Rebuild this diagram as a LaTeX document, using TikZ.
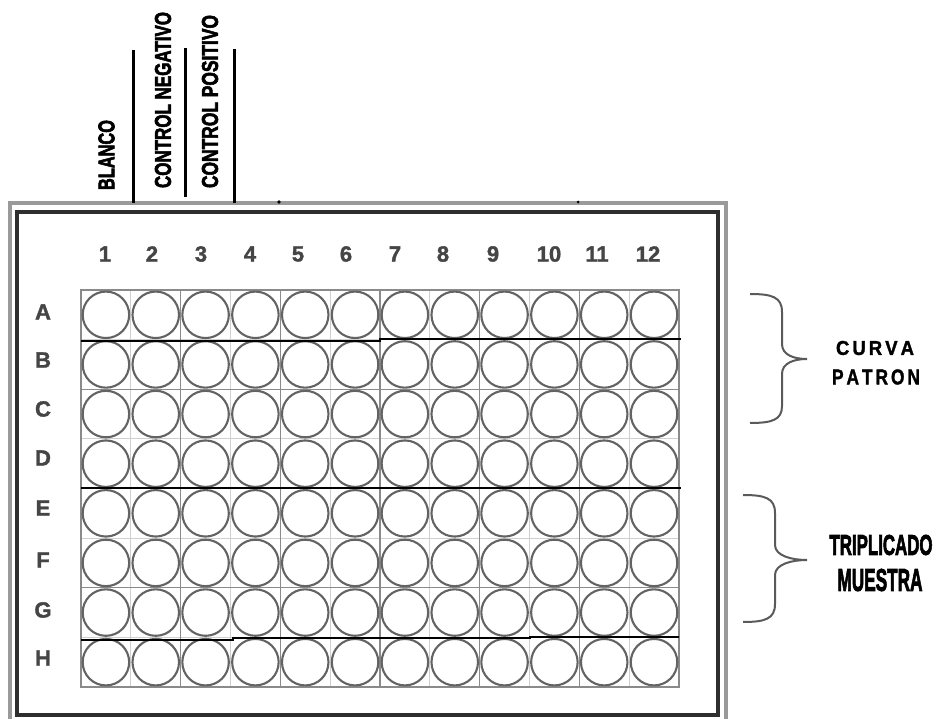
\documentclass[tikz,border=0pt]{standalone}
\usepackage{fontspec}
\setmainfont{Liberation Sans}
\newfontfamily\heavyfont{Liberation Sans Bold}[FakeBold=1.6]
\newfontfamily\heavierfont{Liberation Sans Bold}[FakeBold=3]
\usepackage{graphicx}
\definecolor{wellc}{HTML}{636363}
\definecolor{gridc}{HTML}{8A8A8A}
\definecolor{gridl}{HTML}{CFCFCF}
\definecolor{labc}{HTML}{454545}
\definecolor{framed}{HTML}{2E2E2E}
\definecolor{frameg}{HTML}{9A9A9A}
\definecolor{bracec}{HTML}{5A5A5A}
\begin{document}
\begin{tikzpicture}[x=1pt,y=-1pt,
  well/.style={draw=wellc,line width=2.1pt,fill=white},
  colnum/.style={text=labc,font=\fontsize{22}{22}\selectfont\heavyfont,inner sep=0pt},
  rowlab/.style={text=labc,font=\fontsize{22}{22}\selectfont\heavyfont,inner sep=0pt},
  toplab/.style={rotate=90,inner sep=0pt,font=\heavierfont},
  sidelab/.style={inner sep=0pt,font=\heavyfont},
  marker/.style={draw=black,line width=3pt},
  divider/.style={draw=black,line width=1.6pt},
  bracepath/.style={draw=bracec,line width=2pt}]
\useasboundingbox (0,0) rectangle (938,719);
\fill[white] (0,0) rectangle (938,719);
% plate frame
\draw[frameg,line width=4pt] (10,203) rectangle (726,724);
\draw[framed,line width=3.5pt] (17,212) rectangle (718,715);
% faint grid
\foreach \i in {1,...,11} \draw[gridl,line width=1pt] ({81+49.83*\i},290) -- ({81+49.83*\i},687);
\foreach \j in {1,...,7} \draw[gridl,line width=1pt] (81,{290+49.625*\j}) -- (679,{290+49.625*\j});
\foreach \i in {2,4,...,10} \draw[gridc,line width=1.4pt] ({81+49.83*\i},290) -- ({81+49.83*\i},687);
\foreach \j in {2,4,6} \draw[gridc,line width=1.4pt] (81,{290+49.625*\j}) -- (679,{290+49.625*\j});
\draw[gridc,line width=1.8pt] (81,290) rectangle (679,687);
% wells
\foreach \i in {1,...,12}
  \foreach \j in {1,...,8}
    \node[well,circle,minimum size=46.5pt,inner sep=0pt] (w\i-\j) at ({81+49.83*(\i-0.5)},{290+49.625*(\j-0.5)}) {};
% column numbers
\node[colnum] (c1) at (105,254) {1};
\node[colnum] (c2) at (152,254) {2};
\node[colnum] (c3) at (201,254) {3};
\node[colnum] (c4) at (250,254) {4};
\node[colnum] (c5) at (298,254) {5};
\node[colnum] (c6) at (346,254) {6};
\node[colnum] (c7) at (395,254) {7};
\node[colnum] (c8) at (443,254) {8};
\node[colnum] (c9) at (493,254) {9};
\node[colnum] (c10) at (549,254) {10};
\node[colnum] (c11) at (597,254) {11};
\node[colnum] (c12) at (648,254) {12};
% row letters
\node[rowlab] (rA) at (43,312) {A};
\node[rowlab] (rB) at (43,360) {B};
\node[rowlab] (rC) at (43,409) {C};
\node[rowlab] (rD) at (43,458) {D};
\node[rowlab] (rE) at (43,508) {E};
\node[rowlab] (rF) at (43,560) {F};
\node[rowlab] (rG) at (43,610) {G};
\node[rowlab] (rH) at (43,658) {H};
% divider lines
\coordinate (d1a) at (81,341); \coordinate (d1b) at (380,341); \coordinate (d1c) at (380,339); \coordinate (d1d) at (681,339);
\draw[divider] (d1a) -- (d1b) -- (d1c) -- (d1d);
\coordinate (d2a) at (81,488); \coordinate (d2b) at (681,488);
\draw[divider] (d2a) -- (d2b);
\coordinate (d3a) at (81,640); \coordinate (d3b) at (233,640); \coordinate (d3c) at (233,638); \coordinate (d3d) at (530,638); \coordinate (d3e) at (530,637); \coordinate (d3f) at (679,637);
\draw[divider] (d3a) -- (d3b) -- (d3c) -- (d3d) -- (d3e) -- (d3f);
% top markers
\coordinate (m1t) at (133,50); \coordinate (m1b) at (133,203);
\coordinate (m2t) at (185,48); \coordinate (m2b) at (185,197);
\coordinate (m3t) at (234,49); \coordinate (m3b) at (234,203);
\draw[marker] (m1t) -- (m1b);
\draw[marker] (m2t) -- (m2b);
\draw[marker] (m3t) -- (m3b);
\fill[black] (279,202) circle (1.8pt);
\fill[black] (578,202) circle (1.5pt);
% top labels
\node[toplab] (blanco) at (106.5,155) {\resizebox{70pt}{16pt}{BLANCO}};
\node[toplab] (cneg) at (163,100) {\resizebox{176pt}{16pt}{CONTROL NEGATIVO}};
\node[toplab] (cpos) at (210,101.5) {\resizebox{173pt}{16pt}{CONTROL POSITIVO}};
% braces
\draw[bracepath] (750,294) .. controls (772,294) and (782,297) .. (782,312) -- (782,344)
  .. controls (782,355) and (794,359) .. (807,359)
  .. controls (794,359) and (782,363) .. (782,374) -- (782,406)
  .. controls (782,420) and (772,423) .. (750,423);
\draw[bracepath] (743,495) .. controls (765,495) and (775,498) .. (775,513) -- (775,545)
  .. controls (775,556) and (792,560) .. (807,560)
  .. controls (792,560) and (775,564) .. (775,575) -- (775,604)
  .. controls (775,619) and (765,622) .. (743,622);
% side labels
\node[sidelab] (curva) at (875,348) {\resizebox{78pt}{14pt}{C\,U\,R\,V\,A}};
\node[sidelab] (patron) at (876,377) {\resizebox{88pt}{15pt}{P\,A\,T\,R\,O\,N}};
\node[sidelab,font=\heavierfont] (tripl) at (881,545) {\resizebox{103pt}{20pt}{TRIPLICADO}};
\node[sidelab,font=\heavierfont] (muestra) at (880,580) {\resizebox{85pt}{22pt}{MUESTRA}};
\end{tikzpicture}
\end{document}
